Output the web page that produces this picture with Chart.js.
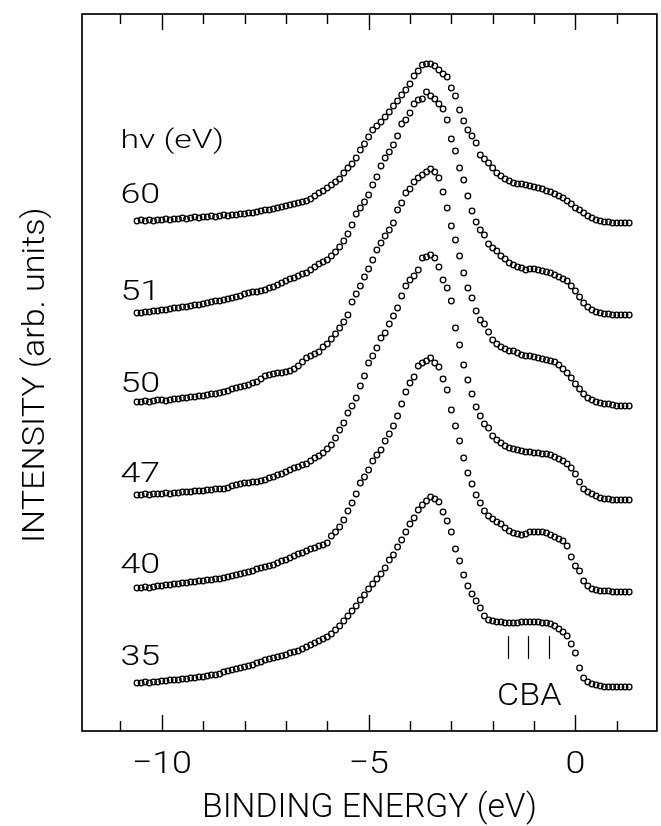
<!DOCTYPE html>
<html>
<head>
<meta charset="utf-8">
<script src="https://cdn.jsdelivr.net/npm/chart.js@4.4.1/dist/chart.umd.min.js"></script>
<style>
  html, body { margin: 0; padding: 0; background: #fff; }
  #c { display: block; }
</style>
</head>
<body>
<canvas id="c" width="661" height="826"></canvas>
<script>
// ---------------- data ----------------
const energy = [
 -10.6,-10.5,-10.4,-10.3,-10.2,-10.1,-10.0,-9.9,-9.8,-9.7,
 -9.6,-9.5,-9.4,-9.3,-9.2,-9.1,-9.0,-8.9,-8.8,-8.7,
 -8.6,-8.5,-8.4,-8.3,-8.2,-8.1,-8.0,-7.9,-7.8,-7.7,
 -7.6,-7.5,-7.4,-7.3,-7.2,-7.1,-7.0,-6.9,-6.8,-6.7,
 -6.6,-6.5,-6.4,-6.3,-6.2,-6.1,-6.0,-5.9,-5.8,-5.7,
 -5.6,-5.5,-5.4,-5.3,-5.2,-5.1,-5.0,-4.9,-4.8,-4.7,
 -4.6,-4.5,-4.4,-4.3,-4.2,-4.1,-4.0,-3.9,-3.8,-3.7,
 -3.6,-3.5,-3.4,-3.3,-3.2,-3.1,-3.0,-2.9,-2.8,-2.7,
 -2.6,-2.5,-2.4,-2.3,-2.2,-2.1,-2.0,-1.9,-1.8,-1.7,
 -1.6,-1.5,-1.4,-1.3,-1.2,-1.1,-1.0,-0.9,-0.8,-0.7,
 -0.6,-0.5,-0.4,-0.3,-0.2,-0.1,0.0,0.1,0.2,0.3,
 0.4,0.5,0.6,0.7,0.8,0.9,1.0,1.1,1.2,1.3
];

// intensities (arb. units, spectra stacked as in the figure)
const int60 = [
 510,511,510,511,510,511,511,512,511,512,
 512,513,512,513,514,513,514,514,515,514,
 515,516,515,516,516,517,517,518,518,519,
 520,521,521,522,523,524,525,526,527,528,
 529,530,532,535,538,540,543,546,549,552,
 558,563,567,573,581,587,594,601,605,609,
 614,619,625,630,636,641,647,655,660,666,
 667,667,665,661,657,654,643,635,621,610,
 601,595,588,576,572,568,563,558,555,552,
 550,548,547,547,546,545,544,543,542,540,
 539,537,535,533,530,527,523,521,518,515,
 513,511,510,509,509,508,508,508,508,508
];
const int51 = [
 418,418,419,419,420,420,421,421,422,423,
 423,424,424,425,426,426,427,428,429,430,
 430,431,432,433,434,435,437,438,439,439,
 440,441,443,444,446,448,450,452,453,455,
 457,458,461,464,467,469,471,475,479,484,
 490,497,506,517,523,529,536,546,554,565,
 573,579,586,595,607,611,618,627,631,632,
 639,635,632,627,622,611,592,580,563,551,
 535,520,509,501,496,487,483,480,475,472,
 468,466,464,463,461,462,462,461,460,459,
 458,456,454,452,450,445,440,434,428,424,
 421,419,418,417,417,416,416,416,416,416
];
const int50 = [
 329,329,330,329,330,331,331,330,331,332,
 332,333,333,334,334,335,335,336,337,337,
 338,339,340,342,343,344,345,346,348,349,
 352,355,356,357,358,358,359,360,362,365,
 369,373,375,377,379,384,387,392,397,403,
 409,416,429,437,445,454,462,471,481,488,
 495,501,508,521,528,538,542,549,553,556,
 559,562,559,553,539,523,505,491,475,458,
 443,433,420,411,407,399,391,387,384,382,
 380,380,378,376,375,375,374,373,372,371,
 370,369,366,362,358,353,347,342,337,333,
 331,329,328,327,327,326,325,325,325,325
];
const int47 = [
 236,236,237,236,237,237,237,238,237,238,
 238,239,239,239,240,240,240,241,241,242,
 242,242,243,245,246,247,248,248,249,249,
 250,251,253,254,256,257,259,261,263,264,
 266,267,270,273,275,278,282,286,293,301,
 308,318,325,333,345,355,368,375,383,393,
 398,407,415,423,435,445,451,455,461,473,
 474,476,473,464,451,443,430,403,386,366,
 351,337,324,315,307,303,295,291,288,285,
 283,282,281,280,279,279,278,278,277,277,
 276,274,272,270,267,263,257,249,242,239,
 237,235,233,232,232,231,231,231,231,231
];
const int40 = [
 143,143,144,143,144,145,145,146,146,147,
 147,148,148,149,149,150,150,151,151,152,
 152,153,154,155,156,157,158,159,160,162,
 163,164,165,166,168,170,171,173,175,177,
 178,180,182,183,185,186,188,195,199,204,
 211,220,228,237,248,254,261,270,276,281,
 290,297,305,315,327,339,348,354,365,368,
 370,373,368,364,352,341,321,305,290,273,
 258,247,236,228,220,215,212,209,207,203,
 200,198,197,196,197,199,199,199,199,198,
 196,194,192,190,185,174,165,160,150,145,
 142,141,140,140,140,139,139,139,139,139
];
const int35 = [
 48,48,49,48,49,49,50,50,51,51,
 51,52,52,53,53,54,54,55,56,56,
 57,59,60,61,62,63,64,65,66,68,
 69,71,72,73,74,75,76,78,79,80,
 82,84,86,88,90,92,94,97,101,105,
 110,115,120,125,131,136,142,147,152,157,
 163,171,176,184,191,199,207,213,221,226,
 230,234,232,229,219,210,199,182,170,156,
 145,137,130,123,115,111,110,109,109,108,
 108,108,108,109,109,109,109,109,108,108,
 107,105,102,99,95,87,78,63,53,49,
 47,46,45,44,44,44,44,44,44,44
];

const photonEnergies = ['60', '51', '50', '47', '40', '35'];
const labelLevels    = [528, 431, 339, 249, 158, 66];   // intensity level of each hν label
const tickValues   = [-11, -10, -9, -8, -7, -6, -5, -4, -3, -2, -1, 0, 1];
const labeledTicks = [-10, -5, 0];
const tickTexts    = ['\u221210', '\u22125', '0'];
const featureEnergies = [-1.64, -1.14, -0.63];
const featureNames    = ['C', 'B', 'A'];

// ---------------- layout / style ----------------
const FONT = 'Roboto, "Liberation Sans", Arial, sans-serif';
const layoutCfg = {
  labelEnergy: -11.0,
  headerLevel: 583,
  featureTop: 95, featureBottom: 72,
  tickLabelBaseline: 773,
  xTitleBaseline: 817,
  yTitleX: 43.5, yTitleStartY: 543,
  cbaBaseline: 705
};

const series = [int60, int51, int50, int47, int40, int35];
const datasets = series.map((arr, k) => ({
  label: photonEnergies[k] + ' eV',
  data: energy.map((e, i) => ({ x: e, y: arr[i] })),
  showLine: false,
  pointRadius: 2.8,
  pointHoverRadius: 2.8,
  pointBorderWidth: 1.3,
  pointBorderColor: '#000',
  pointBackgroundColor: 'rgba(0,0,0,0)'
}));

function stretchedText(ctx, text, x, y, size, sx, align) {
  ctx.save();
  ctx.translate(x, y);
  ctx.scale(sx, 1);
  ctx.font = '300 ' + size + 'px ' + FONT;
  ctx.textAlign = align;
  ctx.textBaseline = 'alphabetic';
  ctx.fillText(text, 0, 0);
  ctx.restore();
}

const framePlugin = {
  id: 'frame',
  beforeDraw(chart) {
    const ctx = chart.ctx;
    ctx.save();
    ctx.fillStyle = '#fff';
    ctx.fillRect(0, 0, chart.width, chart.height);
    ctx.restore();
  },
  afterDatasetsDraw(chart) {
    const { ctx, chartArea: a, scales: { x, y } } = chart;
    ctx.save();
    ctx.strokeStyle = '#000';
    ctx.fillStyle = '#000';
    ctx.lineWidth = 1.7;
    ctx.strokeRect(a.left, a.top, a.right - a.left, a.bottom - a.top);

    // inward ticks, top and bottom
    ctx.lineWidth = 1.4;
    tickValues.forEach(v => {
      const px = Math.round(x.getPixelForValue(v)) + 0.5;
      const len = labeledTicks.includes(v) ? 16 : 10;
      ctx.beginPath();
      ctx.moveTo(px, a.bottom); ctx.lineTo(px, a.bottom - len);
      ctx.moveTo(px, a.top); ctx.lineTo(px, a.top + len);
      ctx.stroke();
    });

    // tick labels
    labeledTicks.forEach((v, i) =>
      stretchedText(ctx, tickTexts[i], x.getPixelForValue(v), layoutCfg.tickLabelBaseline, 32, 1.12, 'center'));

    // x title
    stretchedText(ctx, 'BINDING ENERGY (eV)', (a.left + a.right) / 2, layoutCfg.xTitleBaseline, 33, 1.02, 'center');

    // y title (rotated)
    ctx.save();
    ctx.translate(layoutCfg.yTitleX, layoutCfg.yTitleStartY);
    ctx.rotate(-Math.PI / 2);
    stretchedText(ctx, 'INTENSITY (arb. units)', 0, 0, 31, 1.1, 'left');
    ctx.restore();

    // hν labels
    const lx = x.getPixelForValue(layoutCfg.labelEnergy);
    stretchedText(ctx, 'h\u03bd (eV)', lx, y.getPixelForValue(layoutCfg.headerLevel), 26, 1.3, 'left');
    photonEnergies.forEach((t, k) =>
      stretchedText(ctx, t, lx, y.getPixelForValue(labelLevels[k]), 28, 1.28, 'left'));

    // feature markers C B A
    ctx.lineWidth = 1.2;
    featureEnergies.forEach(e => {
      const px = Math.round(x.getPixelForValue(e)) + 0.5;
      ctx.beginPath();
      ctx.moveTo(px, y.getPixelForValue(layoutCfg.featureTop));
      ctx.lineTo(px, y.getPixelForValue(layoutCfg.featureBottom));
      ctx.stroke();
    });
    stretchedText(ctx, featureNames.join(''), x.getPixelForValue(featureEnergies[1]) + 1, layoutCfg.cbaBaseline, 31, 1.1, 'center');
    ctx.restore();
  }
};

new Chart(document.getElementById('c'), {
  type: 'scatter',
  data: { datasets },
  options: {
    responsive: false,
    animation: false,
    devicePixelRatio: 1,
    layout: { padding: { left: 82, top: 14, right: 4, bottom: 95 } },
    scales: {
      x: { type: 'linear', min: -11.93, max: 1.97, display: false },
      y: { type: 'linear', min: 0, max: 717, display: false }
    },
    plugins: { legend: { display: false }, tooltip: { enabled: false } },
    events: []
  },
  plugins: [framePlugin]
});
</script>
</body>
</html>
